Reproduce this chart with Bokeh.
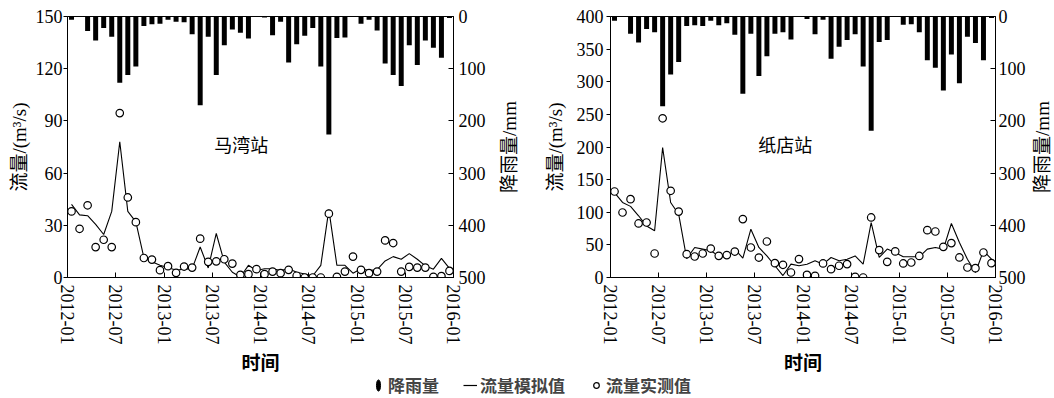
import numpy as np
from bokeh.plotting import figure
from bokeh.models import Range1d, LinearAxis, FixedTicker, Legend, LegendItem, ColumnDataSource, Label
from bokeh.layouts import column, row
from bokeh.embed import file_html
from bokeh.resources import INLINE

# ---------------- data ----------------
tick_pos = [0, 6, 12, 18, 24, 30, 36, 42, 48]          # months after 2012-01
tick_labels = ["2012-01", "2012-07", "2013-01", "2013-07", "2014-01",
               "2014-07", "2015-01", "2015-07", "2016-01"]
rain_ticks = [0, 100, 200, 300, 400, 500]

# 马湾站 (monthly, 2012-01 .. 2015-12)
rain_mw = [6, 0, 28, 46, 22, 39, 127, 112, 96, 18, 15, 14,
           6, 10, 11, 34, 170, 39, 112, 55, 25, 31, 42, 0,
           2, 36, 10, 88, 53, 37, 22, 96, 226, 41, 40, 0,
           14, 6, 27, 90, 112, 133, 55, 93, 46, 60, 79, 3]
sim_mw = [42, 36, 35.5, 30.5, 24.7, 38, 78, 38, 32, 11.4, 9, 7,
          5.7, 4.2, 4.8, 5.1, 17.5, 5.5, 25.3, 8.8, 3, 0.3, 7, 4,
          5, 5, 4, 5, 3, 2, 1, 7, 39, 7, 7, 2.5,
          5, 4, 4.5, 9.5, 12, 10.5, 13.7, 10.5, 6.7, 4.8, 11, 5.2]
obs_mw = [38, 28, 41.5, 17.5, 21.7, 17.5, 94.5, 46, 31.8, 11.2, 10.3, 4.2,
          6.5, 2.7, 6.3, 5.7, 22.3, 9, 9.3, 10.5, 8, 1.5, 1.9, 4.8,
          1.9, 3.4, 2.5, 4.4, 1.0, 0, 0, 0, 36.7, 0.4, 3.4, 12,
          4.4, 2.5, 3.4, 21.3, 19.8, 3.4, 6.1, 5.7, 5.7, 0.4, 0.8, 3.8]

# 纸店站
rain_zd = [8, 0, 33, 50, 24, 30, 172, 111, 87, 18, 17, 18,
           8, 17, 13, 35, 148, 33, 114, 76, 33, 30, 44, 0,
           5, 34, 6, 81, 58, 45, 34, 96, 219, 49, 45, 0,
           16, 15, 30, 84, 98, 142, 73, 128, 39, 51, 84, 3]
sim_zd = [130, 115, 109, 94.6, 79, 71.6, 199, 115, 97, 29, 46, 43.5,
          41, 33, 30.6, 43.5, 29.6, 74, 46, 33, 18, 3, 20.5, 18,
          20.4, 25.6, 20.4, 30.7, 25.6, 28, 33, 20.4, 84, 30.7, 43.5, 38.3,
          31.7, 31.7, 31.7, 43.5, 46, 43.5, 82.8, 53.6, 28, 7.7, 41, 28]
obs_zd = [131.8, 99.6, 120, 82.8, 84.3, 36.8, 244, 132.9, 101, 35.8, 32.2, 36.8,
          44.4, 33.2, 34.3, 39.8, 89.5, 46, 30.6, 55.2, 22, 19.5, 7.7, 28.2,
          4, 2.6, 21.5, 12.8, 18, 20.5, 1, 0, 92, 42, 24, 40,
          21.5, 23, 33, 72.6, 70.5, 47, 52.7, 30.7, 15.3, 14.3, 38.3, 22]

x_mid = np.arange(len(rain_mw)) + 0.5   # mid-month position

SERIF = "Liberation Serif"
CJK = "Noto Sans CJK SC"
MIX = "Liberation Serif, Noto Sans CJK SC"
H, FH, BT, BB = 370, 261, 16, 93


def panel(rain, sim, obs, ymax, yticks, station, sx, sy,
          fw, bl, br, lab_standoff, lab_axis_standoff, r_standoff):
    p = figure(width=bl + fw + br, height=H, frame_width=fw, frame_height=FH,
               x_range=Range1d(0, 48), y_range=Range1d(0, ymax),
               output_backend="svg", toolbar_location=None,
               min_border_left=bl, min_border_right=br,
               min_border_top=BT, min_border_bottom=BB)
    p.extra_y_ranges = {"rain": Range1d(500, 0)}
    p.grid.visible = False
    p.outline_line_color = "black"
    p.outline_line_alpha = 1
    p.background_fill_color = "white"
    p.border_fill_color = "white"

    src = ColumnDataSource(dict(x=x_mid, rain=rain, sim=sim, obs=obs))
    p.vbar(x="x", width=0.62, top=0, bottom="rain", y_range_name="rain",
           fill_color="black", line_color=None, source=src)
    p.line(x="x", y="sim", color="black", line_width=1.1, source=src)
    p.scatter(x="x", y="obs", marker="circle", size=7.5, fill_color="white",
              line_color="black", line_width=1.2, source=src)

    ax_r = LinearAxis(y_range_name="rain", ticker=FixedTicker(ticks=rain_ticks))
    p.add_layout(ax_r, "right")

    xa = p.xaxis[0]
    xa.ticker = FixedTicker(ticks=tick_pos)
    xa.major_label_overrides = {t: l for t, l in zip(tick_pos, tick_labels)}
    xa.major_label_orientation = "vertical"
    xa.major_tick_in = 5
    xa.major_tick_out = 0
    xa.major_label_standoff = 7
    xa.axis_label = "时间"
    xa.axis_label_text_font = CJK
    xa.axis_label_text_font_style = "bold"
    xa.axis_label_standoff = 1

    ya = p.yaxis[0]
    ya.ticker = FixedTicker(ticks=yticks)
    ya.major_tick_out = 4
    ya.major_tick_in = 0
    ya.major_label_standoff = lab_standoff
    ya.axis_label = "流量/(m³/s)"
    ya.axis_label_text_font = MIX
    ya.axis_label_standoff = lab_axis_standoff

    ax_r.major_tick_in = 5
    ax_r.major_tick_out = 0
    ax_r.major_label_standoff = r_standoff

    for ax in p.axis:
        ax.minor_tick_line_color = None
        ax.axis_line_color = "black"
        ax.major_tick_line_color = "black"
        ax.major_label_text_font = SERIF
        ax.major_label_text_font_size = "18px"
        ax.major_label_text_color = "black"
        ax.axis_label_text_font_size = "19px"
        ax.axis_label_text_color = "black"
    ya.axis_label_text_font_style = "normal"

    p.add_layout(Label(x=sx, y=sy, text=station, text_align="center",
                       text_baseline="middle", text_font=CJK,
                       text_font_size="18px", text_color="black"))
    return p


def rain_title(width):
    """Strip holding the right-axis title, sharing the panels' vertical geometry."""
    t = figure(width=width, height=H, frame_width=width, frame_height=FH,
               x_range=Range1d(0, 1), y_range=Range1d(500, 0),
               output_backend="svg", toolbar_location=None,
               min_border_left=0, min_border_right=0,
               min_border_top=BT, min_border_bottom=BB)
    t.axis.visible = False
    t.grid.visible = False
    t.outline_line_color = None
    t.add_layout(Label(x=0.5, y=250, text="降雨量/mm", angle=np.pi / 2,
                       text_align="center", text_baseline="middle",
                       text_font=MIX, text_font_size="19px", text_color="black"))
    return t


p1 = panel(rain_mw, sim_mw, obs_mw, 150, [0, 30, 60, 90, 120, 150], "马湾站", 21.6, 77,
           386, 67, 37, 1, 3, 5)
t1 = rain_title(37)
p2 = panel(rain_zd, sim_zd, obs_zd, 400, [0, 50, 100, 150, 200, 250, 300, 350, 400], "纸店站", 21.8, 204,
           385, 83, 35, 3, 8, 3)
t2 = rain_title(24)

# ---------------- legend strip ----------------
leg = figure(width=1054, height=28, x_range=Range1d(0, 1), y_range=Range1d(0, 1),
             output_backend="svg", toolbar_location=None, min_border=0)
leg.axis.visible = False
leg.grid.visible = False
leg.outline_line_color = None
hidden = ColumnDataSource(dict(x=[-5.0], y=[-5.0]))
r_bar = leg.ellipse(x="x", y="y", width=4, height=11, width_units="screen",
                    height_units="screen", source=hidden,
                    fill_color="black", line_color="black")
r_line = leg.line(x="x", y="y", source=hidden, color="black", line_width=1.2)
r_pt = leg.scatter(x="x", y="y", source=hidden, marker="circle", size=7,
                   fill_color="white", line_color="black", line_width=1.2)
legend = Legend(items=[LegendItem(label="降雨量", renderers=[r_bar]),
                       LegendItem(label="流量模拟值", renderers=[r_line]),
                       LegendItem(label="流量实测值", renderers=[r_pt])],
                orientation="horizontal", location=(371, 9),
                glyph_width=14, glyph_height=18, label_standoff=3, spacing=24,
                padding=0, margin=0, border_line_color=None,
                background_fill_alpha=0,
                label_text_font=CJK, label_text_font_style="bold",
                label_text_font_size="17px", label_height=18,
                label_text_baseline="middle")
leg.add_layout(legend, "center")

layout = column(row(p1, t1, p2, t2), leg)
open("out.html", "w").write(file_html(layout, INLINE))
